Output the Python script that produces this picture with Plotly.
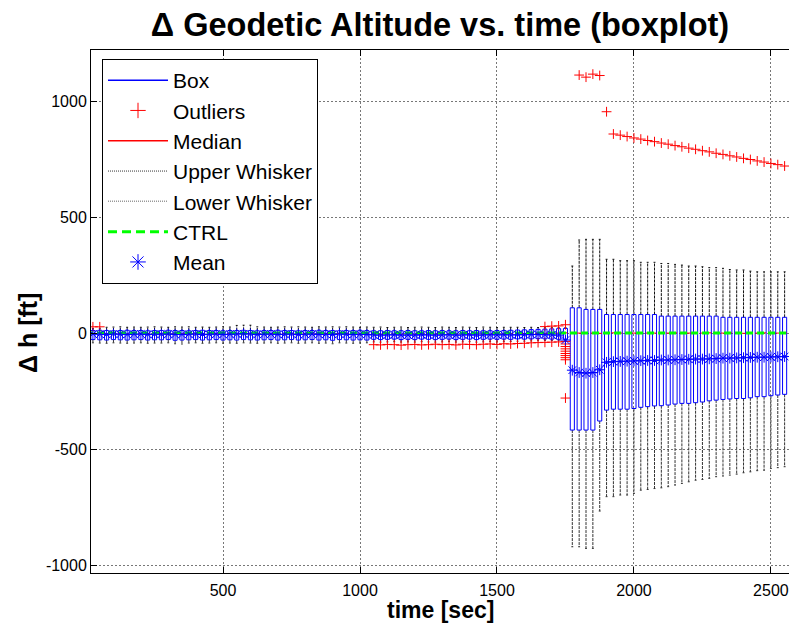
import plotly.graph_objects as go

# ---------------- data ----------------
time_small = [25, 50, 75, 100, 125, 150, 175, 200, 225, 250,
              275, 300, 325, 350, 375, 400, 425, 450, 475, 500,
              525, 550, 575, 600, 625, 650, 675, 700, 725, 750,
              775, 800, 825, 850, 875, 900, 925, 950, 975, 1000,
              1025, 1050, 1075, 1100, 1125, 1150, 1175, 1200, 1225, 1250,
              1275, 1300, 1325, 1350, 1375, 1400, 1425, 1450, 1475, 1500,
              1525, 1550, 1575, 1600, 1625, 1650, 1675, 1700, 1725, 1750]
q3_small = [11, 12, 11, 10, 11, 12, 11, 11, 10, 11,
            11, 12, 11, 11, 10, 11, 12, 11, 11, 10,
            11, 11, 12, 11, 10, 11, 11, 12, 11, 11,
            10, 11, 11, 12, 11, 11, 10, 11, 11, 12,
            11, 10, 10, 11, 10, 10, 11, 10, 10, 11,
            10, 11, 10, 10, 11, 10, 11, 10, 10, 11,
            11, 12, 13, 14, 15, 16, 17, 18, 19, 20]
q1_small = [-28, -29, -30, -28, -29, -30, -29, -28, -30, -29,
            -29, -28, -31, -30, -29, -28, -30, -29, -28, -30,
            -29, -30, -28, -29, -30, -29, -28, -30, -29, -28,
            -30, -29, -28, -30, -29, -31, -28, -29, -30, -29,
            -30, -27, -28, -27, -26, -28, -27, -28, -26, -27,
            -28, -27, -26, -28, -27, -26, -28, -27, -26, -27,
            -26, -27, -25, -26, -25, -24, -25, -26, -27, -28]
median_small = [-3, -4, -3, -2, -3, -4, -3, -3, -2, -3,
                -3, -4, -3, -3, -2, -3, -4, -3, -3, -2,
                -3, -3, -4, -3, -2, -3, -3, -4, -3, -3,
                -2, -3, -3, -4, -3, -3, -2, -3, -3, -4,
                -4, -5, -5, -4, -5, -5, -4, -5, -5, -4,
                -5, -4, -5, -5, -4, -5, -4, -5, -5, -4,
                -4, -3, -3, -2, -2, -1, -1, 0, 0, 1]
upper_whisker_small = [20, 21, 25, 26, 27, 25, 26, 25, 26, 27,
                       26, 25, 27, 26, 27, 25, 26, 25, 26, 27,
                       26, 33, 34, 34, 27, 26, 25, 26, 27, 26,
                       27, 26, 25, 27, 26, 27, 26, 27, 26, 25,
                       26, 25, 26, 24, 25, 26, 24, 25, 26, 25,
                       24, 26, 25, 24, 26, 25, 24, 26, 25, 24,
                       25, 25, 25, 24, 25, 24, 23, 24, 24, 24]
lower_whisker_small = [-42, -43, -44, -42, -43, -44, -43, -42, -44, -43,
                       -43, -42, -46, -47, -43, -42, -44, -43, -42, -44,
                       -43, -44, -42, -43, -44, -43, -42, -44, -43, -42,
                       -44, -43, -42, -44, -43, -46, -42, -43, -44, -43,
                       -42, -38, -39, -38, -37, -39, -38, -39, -37, -38,
                       -39, -38, -37, -39, -38, -37, -39, -38, -37, -38,
                       -37, -36, -35, -35, -34, -33, -32, -32, -32, -32]
mean_small = [-4, -5, -6, -4, -5, -6, -5, -4, -6, -5,
              -5, -4, -6, -6, -5, -4, -6, -5, -4, -6,
              -5, -4, -3, -4, -6, -5, -4, -6, -5, -4,
              -6, -5, -4, -6, -5, -6, -4, -5, -6, -5,
              -6, -8, -9, -8, -7, -9, -8, -9, -7, -8,
              -9, -8, -7, -9, -8, -7, -9, -8, -7, -8,
              -7, -8, -7, -7, -6, -6, -7, -8, -9, -30]

time_big = [1775, 1800, 1825, 1850, 1875, 1900, 1925, 1950, 1975, 2000,
            2025, 2050, 2075, 2100, 2125, 2150, 2175, 2200, 2225, 2250,
            2275, 2300, 2325, 2350, 2375, 2400, 2425, 2450, 2475, 2500,
            2525, 2550]
q3_big = [109, 109, 102, 102, 102, 80, 80, 80, 80, 80,
          80, 80, 80, 73, 73, 73, 73, 73, 73, 73,
          73, 73, 68, 68, 68, 68, 68, 68, 68, 68,
          68, 68]
q1_big = [-418, -418, -418, -418, -379, -332, -328, -328, -328, -325,
          -320, -317, -314, -313, -310, -306, -303, -303, -300, -297,
          -292, -289, -286, -284, -282, -282, -279, -274, -274, -270,
          -267, -264]
median_big = [1, 0, 2, 0, -1, 0, 1, 0, -1, 0,
              1, 0, 0, -1, 0, 1, 0, 0, -1, 0,
              1, 0, 0, 1, 0, -1, 0, 0, 1, 0,
              0, 1]
upper_whisker_big = [289, 401, 404, 404, 404, 318, 318, 312, 312, 312,
                     305, 305, 305, 300, 300, 296, 293, 289, 289, 286,
                     282, 282, 279, 274, 272, 272, 267, 264, 264, 264,
                     264, 264]
lower_whisker_big = [-921, -921, -928, -928, -767, -705, -705, -698, -698, -691,
                     -677, -674, -670, -667, -662, -655, -648, -641, -634, -631,
                     -626, -619, -616, -612, -608, -602, -598, -593, -591, -583,
                     -580, -576]
mean_big = [-160, -170, -173, -170, -158, -126, -123, -122, -121, -120,
            -119, -118, -118, -116, -116, -115, -114, -113, -112, -112,
            -111, -110, -108, -108, -107, -106, -105, -104, -104, -103,
            -102, -101]

outlier_time = [25, 50,
                1050, 1075, 1100, 1125, 1150, 1175, 1200, 1225, 1250, 1275,
                1300, 1325, 1350, 1375, 1400, 1425, 1450, 1475, 1500, 1525,
                1550, 1575, 1600, 1625, 1650, 1675, 1700, 1725,
                1675, 1700, 1725, 1750,
                1750, 1750, 1750, 1750, 1750, 1750, 1750, 1750, 1750, 1750,
                1800, 1825, 1850, 1875, 1900,
                1925, 1950, 1975, 2000, 2025, 2050, 2075, 2100, 2125, 2150,
                2175, 2200, 2225, 2250, 2275, 2300, 2325, 2350, 2375, 2400,
                2425, 2450, 2475, 2500, 2525, 2550]
outlier_value = [27, 27,
                 -50, -51, -49, -50, -52, -50, -49, -51, -50, -48,
                 -50, -49, -51, -48, -49, -50, -48, -47, -49, -46,
                 -47, -45, -44, -42, -41, -40, -39, -38,
                 28, 30, 31, 36,
                 -36, -47, -58, -68, -78, -88, -97, -106, -115, -280,
                 1112, 1103, 1116, 1110, 954,
                 858, 853, 847, 841, 836, 830, 825, 819, 814, 808,
                 803, 797, 792, 786, 781, 775, 770, 764, 759, 753,
                 748, 742, 737, 731, 726, 720]

ctrl_time = [0, 2600]
ctrl_value = [0, 0]

x_ticks = [500, 1000, 1500, 2000, 2500]
y_ticks = [-1000, -500, 0, 500, 1000]

# ---------------- build geometry from data ----------------
time = time_small + time_big
q1 = q1_small + q1_big
q3 = q3_small + q3_big
median = median_small + median_big
upper_w = upper_whisker_small + upper_whisker_big
lower_w = lower_whisker_small + lower_whisker_big
mean = mean_small + mean_big

H = 7.5   # half box width (sec)
C = 3.5   # half cap width (sec)

bx, by, mx, my, ux, uy, lx, ly = [], [], [], [], [], [], [], []
for t, a, b, m, wu, wl in zip(time, q1, q3, median, upper_w, lower_w):
    bx += [t - H, t + H, t + H, t - H, t - H, None]
    by += [a, a, b, b, a, None]
    mx += [t - H, t + H, None]
    my += [m, m, None]
    ux += [t, t, None, t - C, t + C, None]
    uy += [b, wu, None, wu, wu, None]
    lx += [t, t, None, t - C, t + C, None]
    ly += [a, wl, None, wl, wl, None]

FONT = "Liberation Sans, Arial, Helvetica, sans-serif"

BLUE, RED, GREEN = "#0000ff", "#ff0000", "#00ff00"
UPC, LOC = "#111111", "#333333"

fig = go.Figure()
# data traces (drawn)
fig.add_trace(go.Scatter(x=ux, y=uy, mode="lines", showlegend=False,
                         line=dict(color=UPC, width=1, dash="3px,1px")))
fig.add_trace(go.Scatter(x=lx, y=ly, mode="lines", showlegend=False,
                         line=dict(color=LOC, width=1, dash="3px,1px")))
fig.add_trace(go.Scatter(x=bx, y=by, mode="lines", showlegend=False,
                         line=dict(color=BLUE, width=1)))
fig.add_trace(go.Scatter(x=mx, y=my, mode="lines", showlegend=False,
                         line=dict(color=RED, width=1)))
fig.add_trace(go.Scatter(x=outlier_time, y=outlier_value, mode="markers", showlegend=False,
                         marker=dict(symbol="cross-thin-open", size=7,
                                     line=dict(color=RED, width=1), color=RED)))
fig.add_trace(go.Scatter(x=ctrl_time, y=ctrl_value, mode="lines", showlegend=False,
                         line=dict(color=GREEN, width=3, dash="7px,4px")))
fig.add_trace(go.Scatter(x=time, y=mean, mode="markers", showlegend=False,
                         marker=dict(symbol="asterisk-open", size=9,
                                     line=dict(color=BLUE, width=1), color=BLUE)))

# legend entries
legend_items = [
    ("Box", dict(mode="lines", line=dict(color=BLUE, width=1.5))),
    ("Outliers", dict(mode="markers", marker=dict(symbol="cross-thin-open", size=11,
                                                  line=dict(color=RED, width=1), color=RED))),
    ("Median", dict(mode="lines", line=dict(color=RED, width=1.5))),
    ("Upper Whisker", dict(mode="lines", line=dict(color="#333333", width=1, dash="1px,1px"))),
    ("Lower Whisker", dict(mode="lines", line=dict(color="#999999", width=1.5, dash="1px,1px"))),
    ("CTRL", dict(mode="lines", line=dict(color=GREEN, width=3, dash="9px,5px"))),
    ("Mean", dict(mode="markers", marker=dict(symbol="asterisk-open", size=13,
                                              line=dict(color=BLUE, width=1), color=BLUE))),
]
for i, (name, kw) in enumerate(legend_items):
    fig.add_trace(go.Scatter(x=[None], y=[None], name=name, legendgroup="g%d" % i,
                             showlegend=True, **kw))

fig.update_layout(
    width=789, height=626,
    margin=dict(l=91, r=0, t=50, b=53),
    paper_bgcolor="white", plot_bgcolor="white",
    font=dict(family=FONT, color="black", size=16),
    title=dict(text="<b>\u0394 Geodetic Altitude vs. time (boxplot)</b>",
               x=0.5, xref="paper", xanchor="center",
               y=1 - 25 / 626, yref="container", yanchor="middle",
               font=dict(size=32.5, family=FONT, color="black")),
    legend=dict(x=(102 - 91) / 698, y=(573 - 59) / 523, xanchor="left", yanchor="top",
                bgcolor="white", bordercolor="black", borderwidth=1,
                font=dict(size=21, family=FONT, color="black"),
                tracegroupgap=0, itemwidth=60),
    showlegend=True,
)
fig.update_xaxes(range=[18, 2566], tickvals=x_ticks, ticktext=[str(v) for v in x_ticks],
                 showgrid=True, gridcolor="#777777", griddash="2px,2px", gridwidth=1,
                 zeroline=False, showline=True, linecolor="black", linewidth=1,
                 mirror="ticks", ticks="inside", ticklen=6, tickcolor="black",
                 ticklabelstandoff=3,
                 tickfont=dict(size=16, family=FONT, color="black"))
fig.update_yaxes(range=[-1034, 1220], tickvals=y_ticks, ticktext=[str(v) for v in y_ticks],
                 showgrid=True, gridcolor="#777777", griddash="2px,2px", gridwidth=1,
                 zeroline=False, showline=True, linecolor="black", linewidth=1,
                 mirror=False, ticks="inside", ticklen=6, tickcolor="black",
                 tickfont=dict(size=16, family=FONT, color="black"))

fig.add_annotation(text="<b>time [sec]</b>", xref="paper", yref="paper",
                   x=0.5, y=(573 - 610) / 523, xanchor="center", yanchor="middle",
                   showarrow=False, font=dict(size=23, family=FONT, color="black"))
fig.add_annotation(text="<b>\u0394 h [ft]</b>", xref="paper", yref="paper",
                   x=(28 - 91) / 698, y=(573 - 333) / 523, xanchor="center", yanchor="middle",
                   textangle=-90, showarrow=False,
                   font=dict(size=25, family=FONT, color="black"))

fig.write_html("out.html")
